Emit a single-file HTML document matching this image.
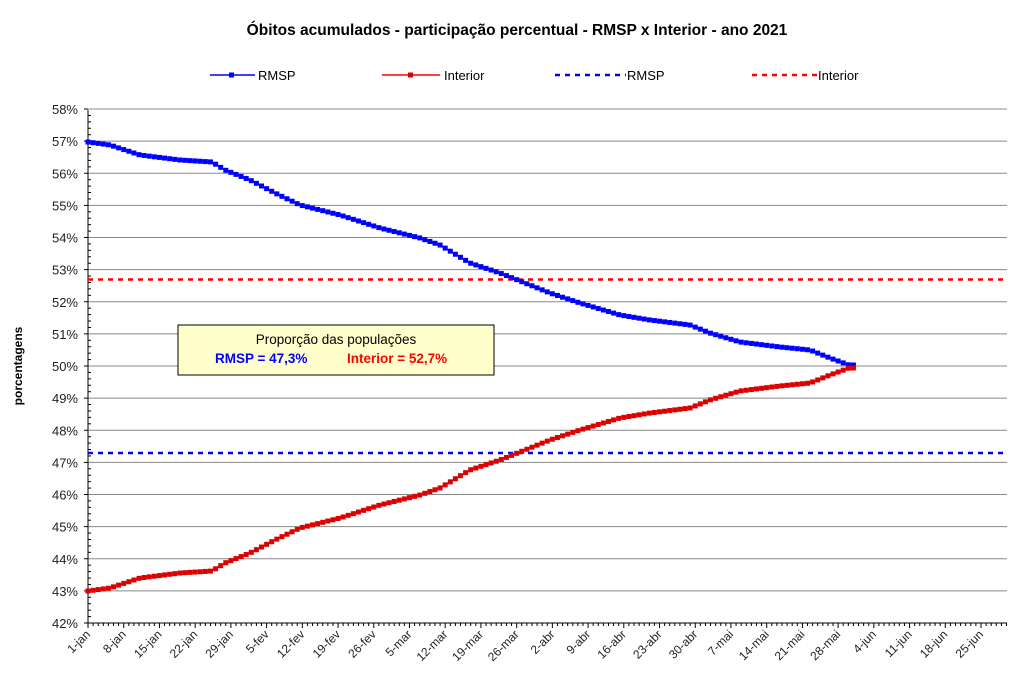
<!DOCTYPE html>
<html><head><meta charset="utf-8"><style>body{margin:0;background:#fff}svg{display:block;font-family:"Liberation Sans",Arial,sans-serif}</style></head><body>
<svg id="s" width="1024" height="681" viewBox="0 0 1024 681">
<text x="517" y="35" font-size="15.5" font-weight="bold" text-anchor="middle">Óbitos acumulados - participação percentual - RMSP x Interior  - ano 2021</text>
<g font-size="13">
<line x1="210" y1="75" x2="255" y2="75" stroke="#0000ff" stroke-width="1.5"/><rect x="229" y="72.5" width="5" height="5" fill="#0000ff"/><text x="258" y="80">RMSP</text>
<line x1="382" y1="75" x2="440" y2="75" stroke="#ff0000" stroke-width="1.5"/><rect x="408" y="72.5" width="5" height="5" fill="#dd0000"/><text x="444" y="80">Interior</text>
<line x1="555" y1="75" x2="626" y2="75" stroke="#0000ff" stroke-width="2.5" stroke-dasharray="5,5"/><text x="627" y="80">RMSP</text>
<line x1="752" y1="75" x2="818" y2="75" stroke="#ff0000" stroke-width="2.5" stroke-dasharray="5,5"/><text x="818" y="80">Interior</text>
</g>
<text transform="translate(22,366) rotate(-90)" font-size="12" font-weight="bold" text-anchor="middle">porcentagens</text>
<g id="grid"></g>
<line x1="88" y1="279.5" x2="1007" y2="279.5" stroke="#ff0000" stroke-width="2.5" stroke-dasharray="5,5"/>
<line x1="88" y1="453" x2="1007" y2="453" stroke="#0000ff" stroke-width="2.5" stroke-dasharray="5,5"/>
<g id="data"></g>
<rect x="178" y="325" width="316" height="50" fill="#ffffcc" stroke="#000" stroke-width="1"/>
<text x="336" y="344" font-size="13.5" text-anchor="middle">Proporção das populações</text>
<text x="215" y="363" font-size="13.5" font-weight="bold" fill="#0000ff">RMSP = 47,3%</text>
<text x="347" y="363" font-size="13.5" font-weight="bold" fill="#ff0000">Interior = 52,7%</text>
</svg>
<script>
var ns="http://www.w3.org/2000/svg",g=document.getElementById("grid"),d=document.getElementById("data");
function el(t,a,p){var e=document.createElementNS(ns,t);for(var k in a)e.setAttribute(k,a[k]);(p||g).appendChild(e);return e;}
var X0=88,X1=1007,Y0=623,dy=32.125,dx=(981-88)/175;
for(var i=0;i<=16;i++){var y=Y0-i*dy;el("line",{x1:X0,x2:X1,y1:y,y2:y,stroke:i==0?"#000":"#888","stroke-width":1});
var t=el("text",{x:78,y:y+5,"font-size":13,"text-anchor":"end",fill:"#222"});t.textContent=(42+i)+"%";
el("line",{x1:X0-4,x2:X0,y1:y,y2:y,stroke:"#000"});
if(i<16)for(var j=1;j<5;j++){var yy=y-j*dy/5;el("line",{x1:X0,x2:X0+3,y1:yy,y2:yy,stroke:"#000"});}}
el("line",{x1:X0,x2:X0,y1:Y0,y2:110,stroke:"#000"});
var labs=["1-jan","8-jan","15-jan","22-jan","29-jan","5-fev","12-fev","19-fev","26-fev","5-mar","12-mar","19-mar","26-mar","2-abr","9-abr","16-abr","23-abr","30-abr","7-mai","14-mai","21-mai","28-mai","4-jun","11-jun","18-jun","25-jun"];
for(var dd=0;dd<=180;dd++){var x=X0+dd*dx;if(x>X1)break;el("line",{x1:x,x2:x,y1:Y0,y2:Y0+(dd%7==0?5:3),stroke:"#000"});}
labs.forEach(function(l,i){var x=X0+i*7*dx;var t=el("text",{transform:"translate("+(x+3)+","+(Y0+12)+") rotate(-45)","font-size":12,"text-anchor":"end",fill:"#222"});t.textContent=l;});
var kp=[[88,142],[110,145],[125,150],[140,155],[180,160],[212,162],[225,170],[250,180],[275,193],[300,205],[340,215],[380,228],[420,238],[440,245],[470,263],[500,273],[530,285],[550,293],[580,303],[620,315],[650,320],[690,325],[710,333],[740,342],[780,347],[810,350],[830,358],[849,365]];
function f(x){for(var i=0;i<kp.length-1;i++)if(x<=kp[i+1][0]){var a=kp[i],b=kp[i+1];return a[1]+(b[1]-a[1])*(x-a[0])/(b[0]-a[0]);}return 365;}
var pb=[],pr=[];for(var k=0;k<=150;k++){var x=X0+k*dx,y=f(x);pb.push(x+","+y);pr.push(x+","+(733-y));}
el("polyline",{points:pb.join(" "),fill:"none",stroke:"#0000ff","stroke-width":1.5},d);
el("polyline",{points:pr.join(" "),fill:"none",stroke:"#ff0000","stroke-width":1.5},d);
for(var k=0;k<=150;k++){var x=X0+k*dx,y=f(x);el("rect",{x:x-2.5,y:y-2.5,width:5,height:5,fill:"#0000ff"},d);el("rect",{x:x-2.5,y:733-y-2.5,width:5,height:5,fill:"#dd0000"},d);}
</script>
</body></html>
